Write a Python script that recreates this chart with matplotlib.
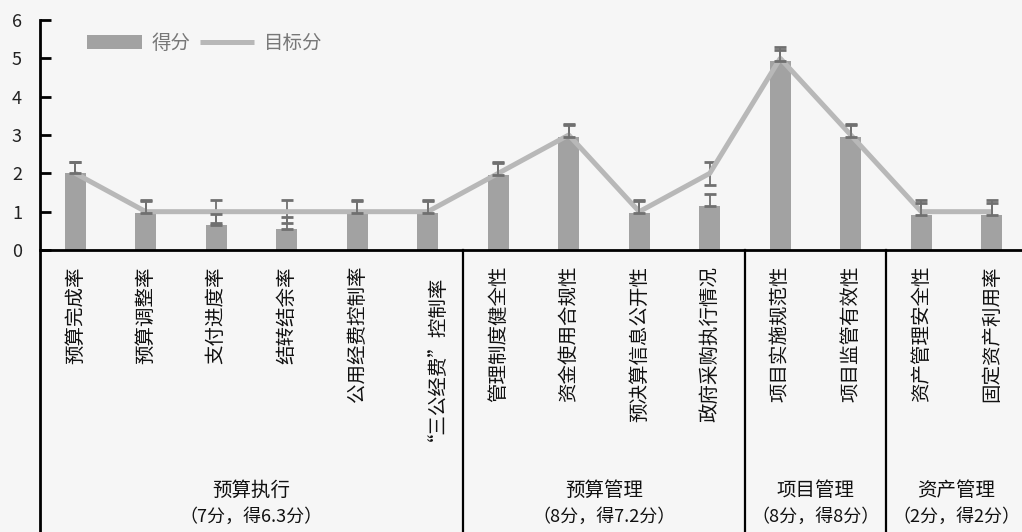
import numpy as np
import matplotlib
matplotlib.use("Agg")
import matplotlib.pyplot as plt
import matplotlib.transforms as mtransforms

plt.rcParams["font.family"] = ["Noto Sans CJK SC", "DejaVu Sans"]

# data
categories = [
    "预算完成率", "预算调整率", "支付进度率", "结转结余率", "公用经费控制率",
    "“三公经费”控制率", "管理制度健全性", "资金使用合规性", "预决算信息公开性",
    "政府采购执行情况", "项目实施规范性", "项目监管有效性", "资产管理安全性",
    "固定资产利用率",
]
scores = [2.0, 0.97, 0.65, 0.55, 0.97, 0.97, 1.96, 2.95, 0.97, 1.15, 4.93, 2.95, 0.92, 0.92]
targets = [2, 1, 1, 1, 1, 1, 2, 3, 1, 2, 5, 3, 1, 1]
score_err = [0.3] * 14
target_err = [0.3] * 14
groups = ["预算执行", "预算管理", "项目管理", "资产管理"]
group_notes = ["（7分，得6.3分）", "（8分，得7.2分）", "（8分，得8分）", "（2分，得2分）"]
group_sizes = [6, 4, 2, 2]

W, H = 1022, 532
fig = plt.figure(figsize=(W / 100, H / 100), dpi=100, facecolor="#f6f6f6")
ax = fig.add_axes([40 / W, 282 / H, 987 / W, 230 / H])
ax.set_facecolor("none")

x = np.arange(len(categories))
# target error bars sit behind the bars, so only the parts above/below show
ax.errorbar(x, targets, yerr=target_err, fmt="none", ecolor="#707070",
            elinewidth=1.3, capsize=4, capthick=2, zorder=1)
bars = ax.bar(x, scores, width=0.3, color="#a2a2a2", zorder=2, label="得分")
line, = ax.plot(x, targets, color="#b8b8b8", lw=3.6, zorder=3, label="目标分",
                solid_capstyle="butt")
ax.errorbar(x, scores, yerr=[[0] * len(x), score_err], fmt="none",
            ecolor="#707070", elinewidth=1.3, capsize=4, capthick=2, zorder=4)

ax.set_xlim(-0.5, len(categories) - 0.5)
ax.set_ylim(0, 6)
ax.set_yticks(range(0, 7))
ax.set_xticks([])
ax.tick_params(axis="y", direction="in", length=8, width=2, pad=13,
               labelsize=13, labelcolor="#222222")
for side in ["top", "right"]:
    ax.spines[side].set_visible(False)
ax.spines["left"].set_linewidth(2)
ax.spines["bottom"].set_linewidth(2)

trans = mtransforms.blended_transform_factory(ax.transData, ax.transAxes)
bottom = -282 / 230

# category labels
for xi, name in zip(x, categories):
    ax.text(xi, -16 / 230, name, rotation=90, ha="center", va="top",
            fontsize=14, color="#111111", transform=trans, clip_on=False)

# group separators and group labels
edges = np.concatenate([[0], np.cumsum(group_sizes)]) - 0.5
for e in edges[:-1]:
    ax.plot([e, e], [0, bottom], color="black", lw=1.6 if e > 0 else 2,
            transform=trans, clip_on=False)
for i, (g, note) in enumerate(zip(groups, group_notes)):
    mid = (edges[i] + edges[i + 1]) / 2
    ax.text(mid, -240 / 230, g, ha="center", va="center", fontsize=14,
            color="#111111", transform=trans, clip_on=False)
    ax.text(mid, -267 / 230, note, ha="center", va="center", fontsize=13,
            color="#111111", transform=trans, clip_on=False)

ax.legend(handles=[bars, line], loc="upper left", bbox_to_anchor=(0.03, 1.02),
          ncol=2, frameon=False, fontsize=14, handlelength=2.8,
          handleheight=0.7, handletextpad=0.5, columnspacing=0.5,
          labelcolor="#777777")

fig.savefig("out.png", dpi=100, facecolor=fig.get_facecolor())
